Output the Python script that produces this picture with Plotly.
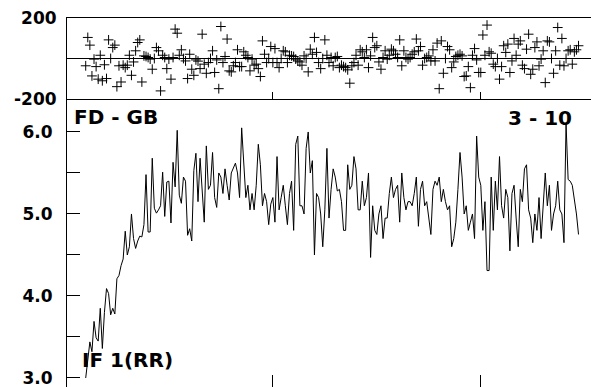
import numpy as np
import plotly.graph_objects as go

# ---- data ----
RESID = [  # top panel residuals (crosses)
    -36, 104, 66, -86, -3, -40, -102, 16, -110, -31,
    -99, 92, 0, 54, 66, -139, -36, -116, -33,
    -45, -33, 16, -83, -17, 38, 79, 92, -116, 13,
    10, 5, -3, -53, 0, 54, 38, -160, 16,
    5, -50, -3, -102, 5, 145, 125, 16, 43,
    0, -12, -99, 21, -53, -83, -7, -13, -50, 120,
    -28,
    -73, -20, 0, 38, -69, -7, -149, 158, -20,
    10, 96, -61, -66, -36, -20, 43, -40, -40, 33,
    16, 5, -61, -3, -33, -28, -50, -89, 87, 21,
    -20, 0, 59, -20, 49, -20, -45, 0, 38,
    33, -20, 16, 13, 10, -3, -12, -17, -33, 13,
    0, -66, 46, 21, 104, 30, -20, -50, 0, 92,
    16, -20, 5,
    -36, 5, 10, -45, -33, -40, -45, -56, -122, -36,
    -20, 16, -33, 43, 33, 5, 43, -45, 13, 104,
    54, 63, -17, -53, 5, 38, -3, 16, 46,
    38, 21, 5, 92, -36, 38, 5, -3, 5,
    21, 33, 96, 38, 59, -33, 0, 5, 13, -12,
    43, -12, 76, -149, 87, -73, 0, 59, 43,
    -45, -17, 10,
    16, 21, 13, -89, -86, -40, -144, 16, 49, -7,
    -69, -69, 116, 16, 165, 33, 26, -28, -40, 0,
    -102, -40, 63, 30, 71, -69, -12, 99, 16,
    71, 87, -33, -50, 46, 120, -78, -53, 54, 82,
    -36, -3, 38, -119, 87, 82, 0, -73, 38, 153,
    -33, 99, -36, 0, 38, 43, -28, 33,
    43, 63,
]

SERIES = [  # bottom panel series
    3.00, 3.20, 3.44, 3.32, 3.69, 3.49, 3.45, 3.85, 3.36, 3.80,
    4.09, 4.03, 3.77, 3.85, 3.78, 4.21, 4.25, 4.37, 4.45, 4.79,
    4.50, 4.60, 5.00, 4.70, 4.58, 4.67, 4.73, 4.72, 4.87, 5.48,
    4.78, 4.78, 5.68, 5.07, 5.01, 5.05, 5.10, 5.51, 4.97, 5.39, 5.40,
    4.89, 5.63, 5.33, 6.02, 5.23, 5.13, 5.45, 5.40, 4.74, 4.82,
    4.67, 5.53, 5.74, 5.15, 5.68, 5.30, 4.90, 5.83, 5.30,
    5.35, 5.75, 5.20, 5.08, 5.50, 5.45, 5.25, 5.55, 5.35, 5.17,
    5.50, 5.55, 5.62, 5.50, 5.20, 6.05, 5.60, 5.20, 5.35, 5.05,
    5.25, 5.05, 5.35, 5.85, 5.60, 5.10, 5.25, 5.15, 4.87,
    5.12, 5.20, 4.90, 5.70, 5.05, 5.20, 5.35, 5.10, 4.87, 5.25,
    5.40, 4.80, 5.85, 5.95, 5.10, 5.10,
    5.00, 5.80, 6.00, 5.50, 5.65, 4.50, 5.25, 5.20, 5.00, 4.60,
    5.05, 5.80, 4.95, 5.30, 5.55, 5.45, 5.28, 5.30, 5.15, 4.80,
    4.80, 5.60, 5.30, 5.35, 5.70, 5.55, 5.05, 5.05, 5.40, 5.10,
    5.20, 5.50, 4.47, 5.10, 4.80, 4.75, 5.00, 5.10, 4.70, 4.95,
    4.95, 5.25, 5.45, 5.20, 5.30, 5.35, 4.90, 5.50, 5.20, 5.05,
    5.15, 5.15, 5.10, 5.25, 5.45, 4.85, 5.30, 5.40, 5.10,
    5.15, 4.95, 4.75, 5.30, 5.40, 5.35, 5.45, 5.15, 5.30,
    5.15, 5.05, 5.10, 4.60, 4.70, 4.90, 5.30, 5.75, 5.45, 5.00,
    5.10, 4.80, 4.90, 5.00, 4.70, 5.95, 5.45, 5.35, 4.80, 5.15,
    4.31, 4.31, 5.45, 4.80, 5.40, 5.05, 5.70, 5.10, 4.95, 5.30,
    5.20, 4.55, 5.25, 5.35, 4.95, 4.60, 5.30, 5.15,
    5.55, 5.60, 5.05, 4.95, 4.65, 5.00, 4.80, 5.20, 4.70, 5.15,
    5.50, 5.10, 5.35, 4.80, 5.00, 5.10, 5.40, 5.05, 5.00,
    4.65, 6.10, 5.42, 5.40, 5.35, 5.20, 5.00, 4.75,
]

START = 10
X_RANGE = [1, 253]
X_TICKS = [100, 200]
TOP_TICKS = [-200, 200]
TOP_LABELS = ["-200", "200"]
BOT_TICKS = [3.0, 3.5, 4.0, 4.5, 5.0, 5.5, 6.0]
BOT_LABELS = ["3.0", "", "4.0", "", "5.0", "", "6.0"]

x_res = np.arange(START, START + len(RESID))
x_ser = np.arange(START, START + len(SERIES))

FONT = "DejaVu Sans"
tickfont = dict(family=FONT, size=17, color="black", weight="bold")

fig = go.Figure()
fig.add_trace(go.Scatter(
    x=x_res, y=RESID, mode="markers", xaxis="x", yaxis="y",
    marker=dict(symbol="cross-thin", size=7, color="black",
                line=dict(color="black", width=1)),
    showlegend=False, hoverinfo="skip"))
fig.add_trace(go.Scatter(
    x=x_ser, y=SERIES, mode="lines", xaxis="x2", yaxis="y2",
    line=dict(color="black", width=1),
    showlegend=False, hoverinfo="skip"))

split = 1 - 81 / 369

common_x = dict(range=X_RANGE, tickvals=X_TICKS, showticklabels=False,
                showgrid=False, zeroline=False, tickcolor="black",
                tickwidth=1, automargin=False)

fig.update_layout(
    width=591, height=387,
    margin=dict(l=67, r=0, t=18, b=0, autoexpand=False),
    paper_bgcolor="white", plot_bgcolor="white",
    xaxis=dict(common_x, anchor="y", showline=True, mirror=True,
               linecolor="black", linewidth=1, ticks="inside", ticklen=7),
    xaxis3=dict(common_x, anchor="y", overlaying="x", side="top",
                showline=False, ticks="inside", ticklen=10),
    xaxis2=dict(common_x, anchor="y2", showline=False,
                ticks="inside", ticklen=12),
    xaxis4=dict(common_x, anchor="y2", overlaying="x2", side="top",
                showline=False, ticks="inside", ticklen=13),
    yaxis=dict(domain=[split, 1], range=[-200, 200], anchor="x",
               tickvals=TOP_TICKS, ticktext=TOP_LABELS, ticks="",
               showline=True, linecolor="black", linewidth=1,
               showgrid=False, zeroline=True, zerolinecolor="black",
               zerolinewidth=1, tickfont=tickfont, ticklabelstandoff=6,
               ticklabeloverflow="allow", automargin=False),
    yaxis2=dict(domain=[0, split], range=[2.89, 6.402], anchor="x2",
                tickvals=BOT_TICKS, ticktext=BOT_LABELS, ticks="inside",
                ticklen=13, tickcolor="black", showline=True,
                linecolor="black", linewidth=1, showgrid=False,
                zeroline=False, tickfont=tickfont, ticklabelstandoff=10,
                ticklabeloverflow="allow", automargin=False),
    yaxis3=dict(range=[2.89, 6.402], anchor="x2", overlaying="y2",
                side="right", tickvals=BOT_TICKS, showticklabels=False,
                ticks="inside", ticklen=4, tickcolor="black",
                showline=False, showgrid=False, zeroline=False,
                automargin=False),
)

afont = dict(family=FONT, size=20, color="black", weight="bold")
W, H = 524, 369
fig.add_annotation(text="FD - GB", xref="paper", yref="paper",
                   x=(72 - 67) / W, y=(387 - 117) / H, xanchor="left",
                   yanchor="middle", showarrow=False, font=afont)
fig.add_annotation(text="3 - 10", xref="paper", yref="paper",
                   x=(574 - 67) / W, y=(387 - 118) / H, xanchor="right",
                   yanchor="middle", showarrow=False, font=afont)
fig.add_annotation(text="IF 1(RR)", xref="paper", yref="paper",
                   x=(80 - 67) / W, y=(387 - 360) / H, xanchor="left",
                   yanchor="middle", showarrow=False, font=afont)

fig.write_html(
    "out.html",
    config={"displayModeBar": False, "staticPlot": True},
    post_script="document.body.style.margin='0px';"
                "document.body.style.overflow='hidden';",
)
